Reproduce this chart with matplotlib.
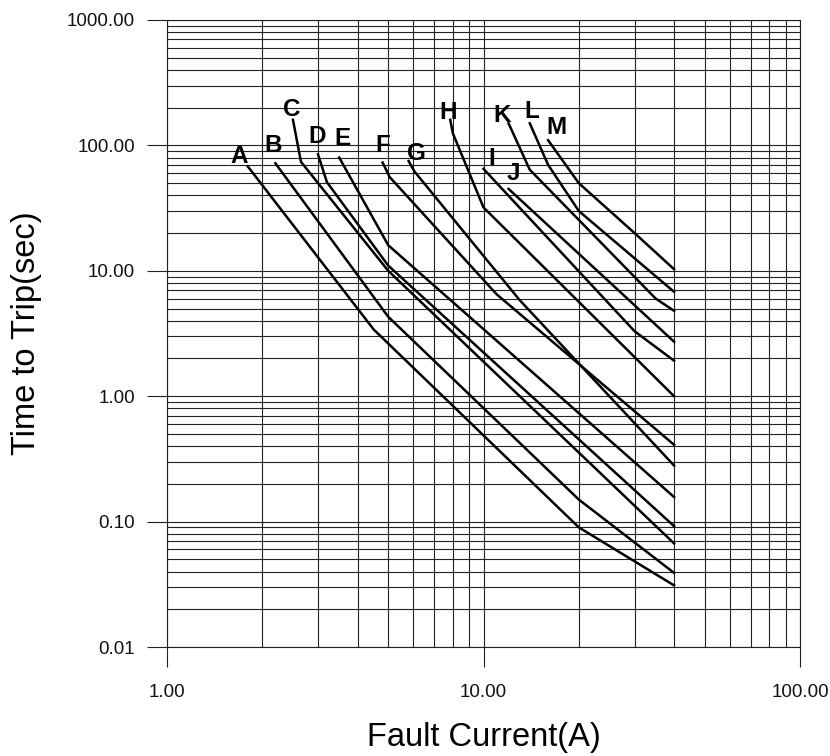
import matplotlib
matplotlib.use("Agg")
import matplotlib.pyplot as plt
from matplotlib.ticker import FixedLocator, FuncFormatter, LogLocator, NullFormatter

plt.rcParams['font.family'] = ['Liberation Sans', 'DejaVu Sans']

# ---- data (fault current A, time s) ----
labels = ["A", "B", "C", "D", "E", "F", "G", "H", "I", "J", "K", "L", "M"]
A_x = [1.8, 4.5, 20, 40];          A_y = [68, 3.4, 0.09, 0.031]
B_x = [2.2, 5.0, 20, 40];          B_y = [72, 4.3, 0.15, 0.039]
C_x = [2.5, 2.65, 5.0, 40];        C_y = [160, 74, 10, 0.067]
D_x = [3.0, 3.2, 5.0, 40];         D_y = [85, 51, 11, 0.092]
E_x = [3.5, 5.0, 40];              E_y = [80, 16, 0.157]
F_x = [4.8, 5.05, 11, 40];         F_y = [73, 56, 6.5, 0.41]
G_x = [5.8, 6.05, 13, 40];         G_y = [75, 62, 5.85, 0.28]
H_x = [7.85, 8.0, 10, 40];         H_y = [160, 125, 32, 1.0]
I_x = [10, 30, 40];                I_y = [65, 3.3, 1.92]
J_x = [12, 40];                    J_y = [45, 2.72]
K_x = [12, 14, 35, 40];            K_y = [150, 64, 6.0, 4.8]
L_x = [14, 16, 20, 40];            L_y = [150, 70, 30, 6.8]
M_x = [16, 20, 30, 40];            M_y = [110, 50, 20, 10.3]

curves_x = [A_x, B_x, C_x, D_x, E_x, F_x, G_x, H_x, I_x, J_x, K_x, L_x, M_x]
curves_y = [A_y, B_y, C_y, D_y, E_y, F_y, G_y, H_y, I_y, J_y, K_y, L_y, M_y]

x_ticks = [1, 10, 100]
y_ticks = [0.01, 0.1, 1, 10, 100, 1000]

# label offsets (pixels) from each curve's first point
label_off = [(-9, 3.5), (-2.5, 11), (-1.6, 4.3), (-1, 10.8), (3.2, 13), (0.6, 10.8),
             (7.9, 1.5), (-2, 0.5), (8.1, 4.3), (4.7, 8.5), (-6.6, 1), (1.7, 5), (8.4, 6.7)]

fig = plt.figure(figsize=(8.3, 7.56), dpi=100)
ax = fig.add_axes([167/830, 1 - 647/756, (800-167)/830, (647-20)/756])
ax.set_xscale('log')
ax.set_yscale('log')
ax.set_xlim(1, 100)
ax.set_ylim(0.01, 1000)

ax.xaxis.set_major_locator(FixedLocator(x_ticks))
ax.yaxis.set_major_locator(FixedLocator(y_ticks))
ax.xaxis.set_minor_locator(LogLocator(base=10, subs=range(2, 10)))
ax.yaxis.set_minor_locator(LogLocator(base=10, subs=range(2, 10)))
ax.xaxis.set_minor_formatter(NullFormatter())
ax.yaxis.set_minor_formatter(NullFormatter())
fmt = FuncFormatter(lambda v, p: f"{v:.2f}")
ax.xaxis.set_major_formatter(fmt)
ax.yaxis.set_major_formatter(fmt)

ax.grid(True, which='both', color='#222222', linewidth=0.8)
ax.set_axisbelow(True)
ax.tick_params(which='major', direction='out', length=14.4, width=0.8, color='#222222',
               labelsize=13.5, pad=8.5, labelcolor='#111111')
ax.tick_params(axis='x', which='major', pad=12.5)
ax.tick_params(which='minor', length=0)
for s in ax.spines.values():
    s.set_color('#222222')
    s.set_linewidth(0.8)

for name, xs, ys, off in zip(labels, curves_x, curves_y, label_off):
    ax.plot(xs, ys, color='black', linewidth=1.8, solid_joinstyle='round', zorder=3)
    ax.annotate(name, xy=(xs[0], ys[0]), xytext=off, textcoords='offset pixels',
                ha='center', va='baseline', fontsize=17.5, fontweight='bold', zorder=4)

ax.set_xlabel("Fault Current(A)", fontsize=23.5, labelpad=15)
ax.set_ylabel("Time to Trip(sec)", fontsize=23.5, labelpad=18)

fig.savefig("out.png", dpi=100)
